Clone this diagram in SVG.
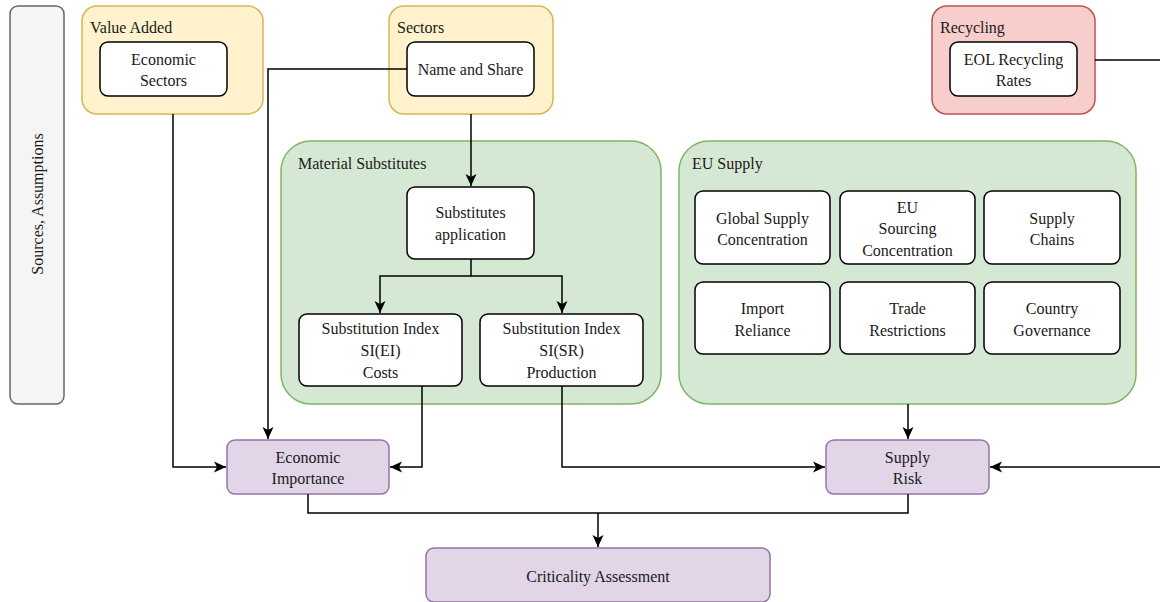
<svg xmlns="http://www.w3.org/2000/svg" width="1160" height="602" viewBox="0 0 1160 602">
  <style>
    .c { text-anchor: middle; }
    .yellow { fill: #fff2cc; stroke: #d6b656; stroke-width: 1.5; }
    .red { fill: #f8cecc; stroke: #b85450; stroke-width: 1.5; }
    .green { fill: #d5e8d4; stroke: #82b366; stroke-width: 1.5; }
    .purple { fill: #e1d5e7; stroke: #9673a6; stroke-width: 1.5; }
    .grey { fill: #f5f5f5; stroke: #666666; stroke-width: 1.5; }
    .white { fill: #ffffff; stroke: #000000; stroke-width: 1.5; }
    .edge { fill: none; stroke: #000000; stroke-width: 1.5; }
  </style>
  <defs>
    <marker id="arrow" markerWidth="14" markerHeight="14" viewBox="0 0 14 14" refX="13" refY="7" orient="auto" markerUnits="userSpaceOnUse">
      <path d="M1,1.5 L13,7 L1,12.5 L4,7 Z" fill="#000"/>
    </marker>
  </defs>

  <g font-family="Liberation Serif" font-size="16" fill="#1a1a1a">
  <g id="sources">
    <rect class="grey" x="10" y="6" width="54" height="398" rx="8"/>
    <text class="c" font-family="Liberation Serif" transform="translate(43,204) rotate(-90)">Sources, Assumptions</text>
  </g>

  <g id="value-added">
    <rect class="yellow" x="82" y="6" width="181" height="108" rx="15"/>
    <text font-family="Liberation Serif" x="90" y="33">Value Added</text>
  </g>
  <g id="economic-sectors">
    <rect class="white" x="100" y="42" width="127" height="54" rx="8"/>
    <text class="c" font-family="Liberation Serif" x="163.5" y="65">Economic</text>
    <text class="c" font-family="Liberation Serif" x="163.5" y="86">Sectors</text>
  </g>

  <g id="sectors">
    <rect class="yellow" x="389" y="6" width="164" height="108" rx="15"/>
    <text font-family="Liberation Serif" x="397" y="33">Sectors</text>
  </g>
  <g id="name-share">
    <rect class="white" x="407" y="42" width="127" height="54" rx="8"/>
    <text class="c" font-family="Liberation Serif" x="470.5" y="75">Name and Share</text>
  </g>

  <g id="recycling">
    <rect class="red" x="932" y="6" width="163" height="108" rx="15"/>
    <text font-family="Liberation Serif" x="940" y="33">Recycling</text>
  </g>
  <g id="eol-rates">
    <rect class="white" x="950" y="42" width="127" height="54" rx="8"/>
    <text class="c" font-family="Liberation Serif" x="1013.5" y="65">EOL Recycling</text>
    <text class="c" font-family="Liberation Serif" x="1013.5" y="86">Rates</text>
  </g>

  <g id="material-substitutes">
    <rect class="green" x="281" y="141" width="380" height="263" rx="30"/>
    <text font-family="Liberation Serif" x="298" y="169">Material Substitutes</text>
  </g>
  <g id="substitutes-application">
    <rect class="white" x="407" y="187" width="127" height="72" rx="8"/>
    <text class="c" font-family="Liberation Serif" x="470.5" y="218">Substitutes</text>
    <text class="c" font-family="Liberation Serif" x="470.5" y="240">application</text>
  </g>
  <g id="si-ei">
    <rect class="white" x="299" y="314" width="163" height="72" rx="8"/>
    <text class="c" font-family="Liberation Serif" x="380.5" y="334">Substitution Index</text>
    <text class="c" font-family="Liberation Serif" x="380.5" y="356">SI(EI)</text>
    <text class="c" font-family="Liberation Serif" x="380.5" y="378">Costs</text>
  </g>
  <g id="si-sr">
    <rect class="white" x="480" y="314" width="163" height="72" rx="8"/>
    <text class="c" font-family="Liberation Serif" x="561.5" y="334">Substitution Index</text>
    <text class="c" font-family="Liberation Serif" x="561.5" y="356">SI(SR)</text>
    <text class="c" font-family="Liberation Serif" x="561.5" y="378">Production</text>
  </g>

  <g id="eu-supply">
    <rect class="green" x="679" y="141" width="457" height="263" rx="30"/>
    <text font-family="Liberation Serif" x="692" y="169">EU Supply</text>
  </g>
  <g id="global-supply">
    <rect class="white" x="695" y="191" width="135" height="73" rx="8"/>
    <text class="c" font-family="Liberation Serif" x="762.5" y="224">Global Supply</text>
    <text class="c" font-family="Liberation Serif" x="762.5" y="245">Concentration</text>
  </g>
  <g id="eu-sourcing">
    <rect class="white" x="840" y="191" width="135" height="73" rx="8"/>
    <text class="c" font-family="Liberation Serif" x="907.5" y="213">EU</text>
    <text class="c" font-family="Liberation Serif" x="907.5" y="234">Sourcing</text>
    <text class="c" font-family="Liberation Serif" x="907.5" y="256">Concentration</text>
  </g>
  <g id="supply-chains">
    <rect class="white" x="984" y="191" width="136" height="73" rx="8"/>
    <text class="c" font-family="Liberation Serif" x="1052" y="224">Supply</text>
    <text class="c" font-family="Liberation Serif" x="1052" y="245">Chains</text>
  </g>
  <g id="import-reliance">
    <rect class="white" x="695" y="282" width="135" height="72" rx="8"/>
    <text class="c" font-family="Liberation Serif" x="762.5" y="314">Import</text>
    <text class="c" font-family="Liberation Serif" x="762.5" y="336">Reliance</text>
  </g>
  <g id="trade-restrictions">
    <rect class="white" x="840" y="282" width="135" height="72" rx="8"/>
    <text class="c" font-family="Liberation Serif" x="907.5" y="314">Trade</text>
    <text class="c" font-family="Liberation Serif" x="907.5" y="336">Restrictions</text>
  </g>
  <g id="country-governance">
    <rect class="white" x="984" y="282" width="136" height="72" rx="8"/>
    <text class="c" font-family="Liberation Serif" x="1052" y="314">Country</text>
    <text class="c" font-family="Liberation Serif" x="1052" y="336">Governance</text>
  </g>

  <g id="economic-importance">
    <rect class="purple" x="227" y="440" width="162" height="54" rx="8"/>
    <text class="c" font-family="Liberation Serif" x="308" y="463">Economic</text>
    <text class="c" font-family="Liberation Serif" x="308" y="484">Importance</text>
  </g>
  <g id="supply-risk">
    <rect class="purple" x="826" y="440" width="163" height="54" rx="8"/>
    <text class="c" font-family="Liberation Serif" x="907.5" y="463">Supply</text>
    <text class="c" font-family="Liberation Serif" x="907.5" y="484">Risk</text>
  </g>
  <g id="criticality-assessment">
    <rect class="purple" x="426" y="548" width="344" height="54" rx="8"/>
    <text class="c" font-family="Liberation Serif" x="598" y="582">Criticality Assessment</text>
  </g>
  </g>

  <g id="connectors">
    <path class="edge" d="M173,114 V467 H226" marker-end="url(#arrow)"/>
    <path class="edge" d="M407,69 H268 V439" marker-end="url(#arrow)"/>
    <path class="edge" d="M471,114 V186" marker-end="url(#arrow)"/>
    <path class="edge" d="M471,259 V276 H380 V313" marker-end="url(#arrow)"/>
    <path class="edge" d="M471,276 H562 V313" marker-end="url(#arrow)"/>
    <path class="edge" d="M422,386 V467 H390" marker-end="url(#arrow)"/>
    <path class="edge" d="M562,386 V467 H825" marker-end="url(#arrow)"/>
    <path class="edge" d="M908,404 V439" marker-end="url(#arrow)"/>
    <path class="edge" d="M1095,60 H1160"/>
    <path class="edge" d="M1160,467 H990" marker-end="url(#arrow)"/>
    <path class="edge" d="M308,494 V513 H908 V494"/>
    <path class="edge" d="M598,513 V547" marker-end="url(#arrow)"/>
  </g>
</svg>
